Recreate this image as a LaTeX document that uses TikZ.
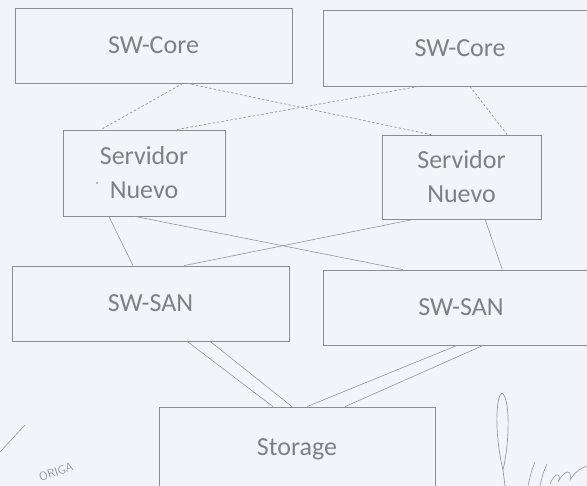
\documentclass[tikz,border=0pt]{standalone}
\usepackage{fontspec}
\setmainfont{Carlito}
\usetikzlibrary{calc}
\definecolor{paper}{RGB}{243,244,250}
\definecolor{boxline}{RGB}{140,140,145}
\definecolor{conn}{RGB}{150,150,156}
\definecolor{txt}{RGB}{128,128,132}
\definecolor{pen}{RGB}{150,152,165}
\tikzset{
  box/.style={draw=boxline, line width=0.8pt, fill=none, text=txt,
    font=\fontsize{26}{34}\selectfont, align=center, inner sep=0pt},
  dotline/.style={draw=conn, line width=0.7pt, dash pattern=on 2.5pt off 2pt},
  solidline/.style={draw=conn, line width=0.6pt},
}
\begin{document}
\begin{tikzpicture}[x=1pt,y=-1pt]
\fill[paper] (0,0) rectangle (587,486);
\useasboundingbox (0,0) rectangle (587,486);
\clip (0,0) rectangle (587,486);

% nodes
\node[box, minimum width=277pt, minimum height=75pt] (lc) at (153.5,45.5) {SW-Core};
\node[box, minimum width=274pt, minimum height=76pt] (rc) at (460,48) {SW-Core};
\node[box, minimum width=162pt, minimum height=86pt] (ls) at (144,173) {Servidor\\Nuevo};
\node[box, minimum width=159pt, minimum height=84pt] (rs) at (461.5,177) {Servidor\\Nuevo};
\node[box, minimum width=277pt, minimum height=75pt] (lsan) at (150.5,303.5) {SW-SAN};
\node[box, minimum width=276pt, minimum height=75pt] (rsan) at (461,307.5) {SW-SAN};
\node[box, minimum width=276pt, minimum height=84pt] (st) at (297,449) {Storage};

% core -> servers (dotted)
\draw[dotline] ($(lc.south west)!0.606!(lc.south east)$) -- ($(ls.north west)!0.235!(ls.north east)$);
\draw[dotline] ($(lc.south west)!0.621!(lc.south east)$) -- ($(rs.north west)!0.308!(rs.north east)$);
\draw[dotline] ($(rc.south west)!0.35!(rc.south east)$) -- ($(ls.north west)!0.70!(ls.north east)$);
\draw[dotline] ($(rc.south west)!0.536!(rc.south east)$) -- ($(rs.north west)!0.786!(rs.north east)$);

% servers -> SAN (solid)
\draw[solidline] ($(ls.south west)!0.284!(ls.south east)$) -- ($(lsan.north west)!0.437!(lsan.north east)$);
\draw[solidline] ($(ls.south west)!0.444!(ls.south east)$) -- ($(rsan.north west)!0.29!(rsan.north east)$);
\draw[solidline] ($(rs.south west)!0.20!(rs.south east)$) -- ($(lsan.north west)!0.621!(lsan.north east)$);
\draw[solidline] ($(rs.south west)!0.648!(rs.south east)$) -- ($(rsan.north west)!0.649!(rsan.north east)$);

% SAN -> storage (double)
\draw[solidline] ($(lsan.south west)!0.632!(lsan.south east)$) -- ($(st.north west)!0.413!(st.north east)$);
\draw[solidline] ($(lsan.south west)!0.715!(lsan.south east)$) -- ($(st.north west)!0.482!(st.north east)$);
\draw[solidline] ($(rsan.south west)!0.486!(rsan.south east)$) -- ($(st.north west)!0.536!(st.north east)$);
\draw[solidline] ($(rsan.south west)!0.58!(rsan.south east)$) -- ($(st.north west)!0.674!(st.north east)$);

% stray dot
\fill[txt] (97,183) circle (0.9pt);

% stamp fragment and pen stroke
\node[text=pen, rotate=18, font=\fontsize{12}{14}\selectfont\sffamily, inner sep=0pt] (stamp) at (56,472) {ORIGA};
\draw[pen, line width=0.6pt] (0,452) -- (25,425);

% signature fragment
\draw[pen, line width=0.7pt] (503,470) .. controls (494,432) and (496,396) .. (502,393)
  .. controls (510,398) and (510,440) .. (503,470) -- (505,486);
\draw[pen, line width=0.6pt] (528,486) .. controls (530,476) and (533,466) .. (535,462);
\draw[pen, line width=0.6pt] (540,486) .. controls (542,476) and (545,468) .. (547,464);
\draw[pen, line width=0.6pt] (550,484) .. controls (556,470) and (562,474) .. (558,482)
  .. controls (566,468) and (572,470) .. (570,480) .. controls (576,470) and (582,468) .. (587,466);
\end{tikzpicture}
\end{document}
